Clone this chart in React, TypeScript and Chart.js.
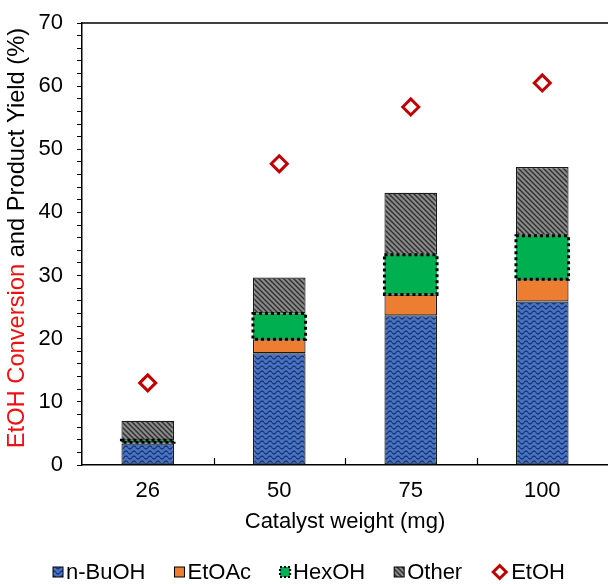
import React, { useEffect, useRef } from 'react';
import { Chart, registerables } from 'chart.js';

Chart.register(...registerables);

// ---------------- data ----------------
const categories = ['26', '50', '75', '100'];
const nBuOHYield = [3.4, 17.7, 23.7, 25.9];
const etOAcYield = [0.2, 2.2, 3.3, 3.5];
const hexOHYield = [0.3, 4.1, 6.3, 6.9];
const otherYield = [3.1, 5.7, 9.8, 10.9];
const etOHConversion = [13.0, 47.7, 56.7, 60.5];
const seriesLabels = ['n-BuOH', 'EtOAc', 'HexOH', 'Other', 'EtOH'];
const xAxisTitle = 'Catalyst weight (mg)';
const yTitleRed = 'EtOH Conversion';
const yTitleBlack = ' and Product Yield (%)';
const yMin = 0;
const yMax = 70;
const yMinorStep = 2;
const yLabelStep = 10;

const FONT = "'Liberation Sans', Arial, sans-serif";
const RED_MARK = '#C00000';
const RED_TITLE = '#EE1111';

function makeWave(): CanvasPattern | string {
  const c = document.createElement('canvas');
  c.width = 8;
  c.height = 5;
  const g = c.getContext('2d');
  if (!g) return '#4472C4';
  g.fillStyle = '#4472C4';
  g.fillRect(0, 0, 8, 5);
  g.strokeStyle = '#1b2d5e';
  g.lineWidth = 1.1;
  g.beginPath();
  for (let x = 0; x <= 8; x += 0.5) {
    const y = 2.5 + 1.5 * Math.sin((x / 8) * 2 * Math.PI);
    if (x === 0) g.moveTo(x, y);
    else g.lineTo(x, y);
  }
  g.stroke();
  return g.createPattern(c, 'repeat') || '#4472C4';
}

function makeHatch(): CanvasPattern | string {
  const s = 5;
  const c = document.createElement('canvas');
  c.width = s;
  c.height = s;
  const g = c.getContext('2d');
  if (!g) return '#808080';
  g.fillStyle = '#8a8a8a';
  g.fillRect(0, 0, s, s);
  g.strokeStyle = '#2e2e2e';
  g.lineWidth = 1.4;
  g.beginPath();
  for (const k of [-s, 0, s]) {
    g.moveTo(k - 1, -1);
    g.lineTo(k + s + 1, s + 1);
  }
  g.stroke();
  return g.createPattern(c, 'repeat') || '#808080';
}

const decorPlugin = {
  id: 'decor',
  afterDatasetsDraw(chart: any) {
    const ctx = chart.ctx as CanvasRenderingContext2D;
    const meta = chart.getDatasetMeta(2);
    ctx.save();
    ctx.strokeStyle = '#000';
    ctx.lineWidth = 3;
    ctx.setLineDash([3, 3]);
    meta.data.forEach((el: any) => {
      const p = el.getProps(['x', 'y', 'base', 'width'], true);
      const top = Math.min(p.y, p.base);
      const h = Math.abs(p.base - p.y);
      ctx.strokeRect(p.x - p.width / 2, top, p.width, h);
    });
    ctx.restore();
  },
  afterDraw(chart: any) {
    const ctx = chart.ctx as CanvasRenderingContext2D;
    const { chartArea, scales } = chart;
    ctx.save();
    // top frame line
    ctx.strokeStyle = '#000';
    ctx.lineWidth = 1.5;
    ctx.beginPath();
    ctx.moveTo(chartArea.left, chartArea.top);
    ctx.lineTo(chartArea.right, chartArea.top);
    ctx.stroke();
    // inner x ticks at category boundaries
    const xs = scales.x;
    ctx.lineWidth = 1.2;
    for (let i = 0; i < categories.length - 1; i++) {
      const b = Math.round((xs.getPixelForValue(i) + xs.getPixelForValue(i + 1)) / 2) + 0.5;
      ctx.beginPath();
      ctx.moveTo(b, chartArea.bottom);
      ctx.lineTo(b, chartArea.bottom - 7);
      ctx.stroke();
    }
    // two-colour y-axis title
    ctx.font = `23.7px ${FONT}`;
    ctx.textBaseline = 'middle';
    ctx.textAlign = 'left';
    const w1 = ctx.measureText(yTitleRed).width;
    const w2 = ctx.measureText(yTitleBlack).width;
    ctx.translate(17, 238);
    ctx.rotate(-Math.PI / 2);
    const sx = -(w1 + w2) / 2;
    ctx.fillStyle = RED_TITLE;
    ctx.fillText(yTitleRed, sx, 0);
    ctx.fillStyle = '#000';
    ctx.fillText(yTitleBlack, sx + w1, 0);
    ctx.restore();

    // legend
    ctx.save();
    ctx.font = `22px ${FONT}`;
    ctx.textBaseline = 'middle';
    ctx.textAlign = 'left';
    const datasets = chart.data.datasets;
    const markerW = datasets.map((_: any, i: number) => (i === 4 ? 17 : 10));
    const gapText = 3;
    const gapItem = 29;
    const widths = datasets.map(
      (ds: any, i: number) => markerW[i] + gapText + ctx.measureText(ds.label).width
    );
    const total = widths.reduce((a: number, b: number) => a + b, 0) + gapItem * (datasets.length - 1);
    let x = 309 - total / 2;
    const cy = 572;
    datasets.forEach((ds: any, i: number) => {
      if (i === 4) {
        const cx = x + 8.5;
        const r = 6.5;
        ctx.beginPath();
        ctx.moveTo(cx, cy - r);
        ctx.lineTo(cx + r, cy);
        ctx.lineTo(cx, cy + r);
        ctx.lineTo(cx - r, cy);
        ctx.closePath();
        ctx.fillStyle = '#fff';
        ctx.fill();
        ctx.strokeStyle = RED_MARK;
        ctx.lineWidth = 3;
        ctx.setLineDash([]);
        ctx.stroke();
      } else {
        ctx.fillStyle = ds.backgroundColor;
        ctx.fillRect(x, cy - 5, 10, 10);
        ctx.strokeStyle = '#000';
        if (i === 2) {
          ctx.lineWidth = 2.2;
          ctx.setLineDash([2, 2]);
        } else {
          ctx.lineWidth = 1;
          ctx.setLineDash([]);
        }
        ctx.strokeRect(x, cy - 5, 10, 10);
        ctx.setLineDash([]);
      }
      ctx.fillStyle = '#000';
      ctx.fillText(ds.label, x + markerW[i] + gapText, cy + 1);
      x += widths[i] + gapItem;
    });
    ctx.restore();
  },
};

export default function App() {
  const ref = useRef<HTMLCanvasElement>(null);

  useEffect(() => {
    document.body.style.margin = '0';
    const canvas = ref.current;
    if (!canvas) return;
    const wave = makeWave();
    const hatch = makeHatch();

    const barCommon = {
      type: 'bar' as const,
      stack: 'yield',
      barPercentage: 0.4,
      categoryPercentage: 1.0,
      borderSkipped: false,
      order: 2,
    };

    const chart = new Chart(canvas, {
      type: 'bar',
      data: {
        labels: categories,
        datasets: [
          {
            ...barCommon,
            label: seriesLabels[0],
            data: nBuOHYield,
            backgroundColor: wave as any,
            borderColor: '#1a1a1a',
            borderWidth: 1.2,
          },
          {
            ...barCommon,
            label: seriesLabels[1],
            data: etOAcYield,
            backgroundColor: '#ED7D31',
            borderColor: '#1a1a1a',
            borderWidth: 1.2,
          },
          {
            ...barCommon,
            label: seriesLabels[2],
            data: hexOHYield,
            backgroundColor: '#00B050',
            borderWidth: 0,
          },
          {
            ...barCommon,
            label: seriesLabels[3],
            data: otherYield,
            backgroundColor: hatch as any,
            borderColor: '#1a1a1a',
            borderWidth: 1.2,
          },
          {
            type: 'line' as const,
            label: seriesLabels[4],
            data: etOHConversion,
            stack: 'conversion',
            showLine: false,
            pointStyle: 'rectRot',
            pointRadius: 8,
            pointHoverRadius: 8,
            pointBorderWidth: 3,
            pointBackgroundColor: '#fff',
            pointBorderColor: RED_MARK,
            borderColor: RED_MARK,
            backgroundColor: '#fff',
            order: 0,
          } as any,
        ],
      },
      options: {
        responsive: false,
        animation: false,
        events: [],
        layout: { autoPadding: false, padding: { top: 23, right: 0, bottom: 49, left: 0 } },
        plugins: {
          legend: { display: false },
          tooltip: { enabled: false },
          title: { display: false },
        },
        scales: {
          x: {
            stacked: true,
            offset: true,
            grid: { display: false, drawTicks: false },
            border: { display: true, color: '#000', width: 1.5 },
            ticks: {
              color: '#000',
              font: { family: FONT, size: 22 },
              padding: 13,
              maxRotation: 0,
            },
            title: {
              display: true,
              text: xAxisTitle,
              color: '#000',
              font: { family: FONT, size: 22 },
              padding: { top: 0, bottom: 0 },
            },
            afterFit: (s: any) => {
              s.height = 70;
            },
          },
          y: {
            stacked: true,
            min: yMin,
            max: yMax,
            ticks: {
              stepSize: yMinorStep,
              autoSkip: false,
              padding: 14,
              color: '#000',
              font: { family: FONT, size: 22 },
              callback: (v: any) => (Number(v) % yLabelStep === 0 ? String(v) : ''),
            },
            grid: {
              display: true,
              drawOnChartArea: false,
              drawTicks: true,
              tickLength: 5,
              color: '#000',
              lineWidth: 1,
            },
            border: { display: true, color: '#000', width: 1.5 },
            afterFit: (s: any) => {
              s.width = 82;
              s.paddingTop = 0;
              s.paddingBottom = 0;
            },
          },
        },
      } as any,
      plugins: [decorPlugin],
    });

    return () => chart.destroy();
  }, []);

  return (
    <div style={{ width: 608, height: 584 }}>
      <canvas ref={ref} width={608} height={584} style={{ display: 'block' }} />
    </div>
  );
}
